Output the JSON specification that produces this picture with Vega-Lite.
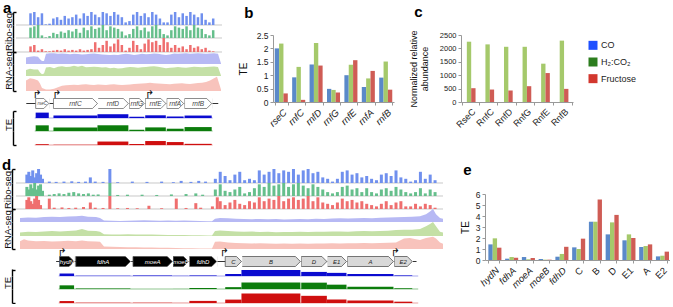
{
"$schema":"https://vega.github.io/schema/vega-lite/v6.json",
"padding":{"left":1,"top":1,"right":0,"bottom":0},
"background":"white",
"config":{
 "font":"Liberation Sans",
 "view":{"stroke":null},
 "axis":{"labelFont":"Liberation Sans","titleFont":"Liberation Sans","labelColor":"#222","titleColor":"#111","titleFontWeight":"normal","titleFontSize":10,"labelFontSize":8.5,"domainColor":"#999","tickColor":"#999","grid":false},
 "title":{"font":"Liberation Sans","fontSize":15,"fontWeight":"bold","anchor":"start","frame":"bounds","color":"#000","offset":0},
 "area":{"opacity":1},
 "bar":{"opacity":1}
},
"datasets":{
 "riboA":[
{"c":"CO","p":0,"v":9},{"c":"CO","p":4,"v":10},{"c":"CO","p":8,"v":6},{"c":"CO","p":12,"v":9},{"c":"CO","p":16,"v":0.5},{"c":"CO","p":20,"v":1},{"c":"CO","p":24,"v":5},{"c":"CO","p":28,"v":6},{"c":"CO","p":32,"v":4},{"c":"CO","p":36,"v":7},{"c":"CO","p":40,"v":5},{"c":"CO","p":44,"v":6},{"c":"CO","p":48,"v":8},{"c":"CO","p":52,"v":5},{"c":"CO","p":56,"v":9},{"c":"CO","p":60,"v":7},{"c":"CO","p":64,"v":10},{"c":"CO","p":68,"v":8},{"c":"CO","p":72,"v":6},{"c":"CO","p":76,"v":10},{"c":"CO","p":80,"v":9},{"c":"CO","p":84,"v":7},{"c":"CO","p":88,"v":10},{"c":"CO","p":92,"v":8},{"c":"CO","p":96,"v":6},{"c":"CO","p":100,"v":2},{"c":"CO","p":104,"v":3},{"c":"CO","p":108,"v":8},{"c":"CO","p":112,"v":10},{"c":"CO","p":116,"v":7},{"c":"CO","p":120,"v":9},{"c":"CO","p":124,"v":6},{"c":"CO","p":128,"v":10},{"c":"CO","p":132,"v":8},{"c":"CO","p":136,"v":5},{"c":"CO","p":140,"v":2},{"c":"CO","p":144,"v":2},{"c":"CO","p":148,"v":8},{"c":"CO","p":152,"v":10},{"c":"CO","p":156,"v":6},{"c":"CO","p":160,"v":9},{"c":"CO","p":164,"v":7},{"c":"CO","p":168,"v":10},{"c":"CO","p":172,"v":8},{"c":"CO","p":176,"v":6},{"c":"CO","p":180,"v":9},{"c":"CO","p":184,"v":4},{"c":"CO","p":188,"v":2},{"c":"CO","p":192,"v":5},
{"c":"H2","p":0,"v":8},{"c":"H2","p":4,"v":9},{"c":"H2","p":8,"v":10},{"c":"H2","p":12,"v":2},{"c":"H2","p":16,"v":0.5},{"c":"H2","p":20,"v":1.5},{"c":"H2","p":24,"v":4},{"c":"H2","p":28,"v":3},{"c":"H2","p":32,"v":5},{"c":"H2","p":36,"v":4},{"c":"H2","p":40,"v":6},{"c":"H2","p":44,"v":5},{"c":"H2","p":48,"v":7},{"c":"H2","p":52,"v":4},{"c":"H2","p":56,"v":8},{"c":"H2","p":60,"v":6},{"c":"H2","p":64,"v":9},{"c":"H2","p":68,"v":7},{"c":"H2","p":72,"v":8},{"c":"H2","p":76,"v":10},{"c":"H2","p":80,"v":6},{"c":"H2","p":84,"v":9},{"c":"H2","p":88,"v":8},{"c":"H2","p":92,"v":7},{"c":"H2","p":96,"v":5},{"c":"H2","p":100,"v":2},{"c":"H2","p":104,"v":3},{"c":"H2","p":108,"v":7},{"c":"H2","p":112,"v":9},{"c":"H2","p":116,"v":6},{"c":"H2","p":120,"v":8},{"c":"H2","p":124,"v":5},{"c":"H2","p":128,"v":9},{"c":"H2","p":132,"v":10},{"c":"H2","p":136,"v":7},{"c":"H2","p":140,"v":3},{"c":"H2","p":144,"v":2},{"c":"H2","p":148,"v":6},{"c":"H2","p":152,"v":9},{"c":"H2","p":156,"v":8},{"c":"H2","p":160,"v":7},{"c":"H2","p":164,"v":9},{"c":"H2","p":168,"v":6},{"c":"H2","p":172,"v":10},{"c":"H2","p":176,"v":8},{"c":"H2","p":180,"v":7},{"c":"H2","p":184,"v":3},{"c":"H2","p":188,"v":2},{"c":"H2","p":192,"v":6},
{"c":"Fru","p":0,"v":4},{"c":"Fru","p":4,"v":5},{"c":"Fru","p":8,"v":1},{"c":"Fru","p":12,"v":2},{"c":"Fru","p":16,"v":0.5},{"c":"Fru","p":20,"v":0.5},{"c":"Fru","p":24,"v":1},{"c":"Fru","p":28,"v":1.5},{"c":"Fru","p":32,"v":1},{"c":"Fru","p":36,"v":2},{"c":"Fru","p":40,"v":1},{"c":"Fru","p":44,"v":1.5},{"c":"Fru","p":48,"v":1},{"c":"Fru","p":52,"v":2},{"c":"Fru","p":56,"v":1},{"c":"Fru","p":60,"v":1.5},{"c":"Fru","p":64,"v":2},{"c":"Fru","p":68,"v":7},{"c":"Fru","p":72,"v":3},{"c":"Fru","p":76,"v":5},{"c":"Fru","p":80,"v":8},{"c":"Fru","p":84,"v":4},{"c":"Fru","p":88,"v":6},{"c":"Fru","p":92,"v":9},{"c":"Fru","p":96,"v":5},{"c":"Fru","p":100,"v":1},{"c":"Fru","p":104,"v":3},{"c":"Fru","p":108,"v":8},{"c":"Fru","p":112,"v":5},{"c":"Fru","p":116,"v":2},{"c":"Fru","p":120,"v":6},{"c":"Fru","p":124,"v":9},{"c":"Fru","p":128,"v":7},{"c":"Fru","p":132,"v":8},{"c":"Fru","p":136,"v":5},{"c":"Fru","p":140,"v":10},{"c":"Fru","p":144,"v":7},{"c":"Fru","p":148,"v":3},{"c":"Fru","p":152,"v":5},{"c":"Fru","p":156,"v":3},{"c":"Fru","p":160,"v":4},{"c":"Fru","p":164,"v":2},{"c":"Fru","p":168,"v":5},{"c":"Fru","p":172,"v":3},{"c":"Fru","p":176,"v":4},{"c":"Fru","p":180,"v":2},{"c":"Fru","p":184,"v":3},{"c":"Fru","p":188,"v":1},{"c":"Fru","p":192,"v":0.5}
 ],
 "rnaA":[
{"c":"CO","p":0,"v":5.5},{"c":"CO","p":4,"v":6},{"c":"CO","p":8,"v":6.5},{"c":"CO","p":12,"v":6},{"c":"CO","p":14,"v":4},{"c":"CO","p":16,"v":2.5},{"c":"CO","p":18,"v":2.5},{"c":"CO","p":20,"v":8.5},{"c":"CO","p":24,"v":9},{"c":"CO","p":28,"v":9},{"c":"CO","p":32,"v":8.5},{"c":"CO","p":36,"v":8.8},{"c":"CO","p":40,"v":8.5},{"c":"CO","p":44,"v":8.2},{"c":"CO","p":48,"v":8.6},{"c":"CO","p":52,"v":8.3},{"c":"CO","p":56,"v":8},{"c":"CO","p":60,"v":8.2},{"c":"CO","p":64,"v":8.5},{"c":"CO","p":68,"v":8.7},{"c":"CO","p":72,"v":8.4},{"c":"CO","p":76,"v":8},{"c":"CO","p":80,"v":7.8},{"c":"CO","p":84,"v":7.5},{"c":"CO","p":88,"v":7.8},{"c":"CO","p":92,"v":7.5},{"c":"CO","p":96,"v":8.2},{"c":"CO","p":100,"v":8.6},{"c":"CO","p":104,"v":8.2},{"c":"CO","p":108,"v":7.6},{"c":"CO","p":112,"v":8},{"c":"CO","p":116,"v":8.5},{"c":"CO","p":120,"v":8.2},{"c":"CO","p":124,"v":8.4},{"c":"CO","p":128,"v":8.8},{"c":"CO","p":132,"v":8.6},{"c":"CO","p":136,"v":8},{"c":"CO","p":140,"v":7.6},{"c":"CO","p":144,"v":8},{"c":"CO","p":148,"v":8.8},{"c":"CO","p":152,"v":8.6},{"c":"CO","p":156,"v":8.8},{"c":"CO","p":160,"v":9},{"c":"CO","p":164,"v":8.5},{"c":"CO","p":168,"v":8.8},{"c":"CO","p":172,"v":9},{"c":"CO","p":176,"v":8.7},{"c":"CO","p":180,"v":8.5},{"c":"CO","p":184,"v":8.8},{"c":"CO","p":188,"v":9},{"c":"CO","p":192,"v":8.5},{"c":"CO","p":195,"v":0.5},
{"c":"H2","p":0,"v":5},{"c":"H2","p":4,"v":6},{"c":"H2","p":8,"v":5.5},{"c":"H2","p":12,"v":5.5},{"c":"H2","p":14,"v":3},{"c":"H2","p":16,"v":1.5},{"c":"H2","p":18,"v":2},{"c":"H2","p":20,"v":7},{"c":"H2","p":24,"v":7.5},{"c":"H2","p":28,"v":6.5},{"c":"H2","p":32,"v":7.8},{"c":"H2","p":36,"v":8.2},{"c":"H2","p":40,"v":7.5},{"c":"H2","p":44,"v":7.8},{"c":"H2","p":48,"v":8.5},{"c":"H2","p":52,"v":7.8},{"c":"H2","p":56,"v":8.5},{"c":"H2","p":60,"v":7.2},{"c":"H2","p":64,"v":7.5},{"c":"H2","p":68,"v":7.8},{"c":"H2","p":72,"v":7.5},{"c":"H2","p":76,"v":7},{"c":"H2","p":80,"v":7.2},{"c":"H2","p":84,"v":6.5},{"c":"H2","p":88,"v":6.8},{"c":"H2","p":92,"v":6.2},{"c":"H2","p":96,"v":6.5},{"c":"H2","p":100,"v":7},{"c":"H2","p":104,"v":7.5},{"c":"H2","p":108,"v":7.2},{"c":"H2","p":112,"v":6.8},{"c":"H2","p":116,"v":7.2},{"c":"H2","p":120,"v":7.6},{"c":"H2","p":124,"v":8},{"c":"H2","p":128,"v":8.2},{"c":"H2","p":132,"v":7.8},{"c":"H2","p":136,"v":7},{"c":"H2","p":140,"v":6.5},{"c":"H2","p":144,"v":6.8},{"c":"H2","p":148,"v":7},{"c":"H2","p":152,"v":7.5},{"c":"H2","p":156,"v":7},{"c":"H2","p":160,"v":6.8},{"c":"H2","p":164,"v":7.2},{"c":"H2","p":168,"v":7.8},{"c":"H2","p":172,"v":7.5},{"c":"H2","p":176,"v":7.2},{"c":"H2","p":180,"v":7.5},{"c":"H2","p":184,"v":7.8},{"c":"H2","p":188,"v":8},{"c":"H2","p":192,"v":7.5},{"c":"H2","p":195,"v":0.5},
{"c":"Fru","p":0,"v":7},{"c":"Fru","p":4,"v":8.5},{"c":"Fru","p":8,"v":8},{"c":"Fru","p":12,"v":7},{"c":"Fru","p":14,"v":5},{"c":"Fru","p":16,"v":2},{"c":"Fru","p":20,"v":1},{"c":"Fru","p":24,"v":1},{"c":"Fru","p":28,"v":1.5},{"c":"Fru","p":32,"v":2.5},{"c":"Fru","p":36,"v":3.5},{"c":"Fru","p":40,"v":3.8},{"c":"Fru","p":44,"v":4},{"c":"Fru","p":48,"v":4.2},{"c":"Fru","p":52,"v":4},{"c":"Fru","p":56,"v":4.3},{"c":"Fru","p":60,"v":4.5},{"c":"Fru","p":64,"v":4.2},{"c":"Fru","p":68,"v":4},{"c":"Fru","p":72,"v":4.4},{"c":"Fru","p":76,"v":4.2},{"c":"Fru","p":80,"v":4},{"c":"Fru","p":84,"v":4.3},{"c":"Fru","p":88,"v":4.5},{"c":"Fru","p":92,"v":4.2},{"c":"Fru","p":96,"v":4},{"c":"Fru","p":100,"v":4.2},{"c":"Fru","p":104,"v":4.4},{"c":"Fru","p":108,"v":4.6},{"c":"Fru","p":112,"v":4.8},{"c":"Fru","p":116,"v":5},{"c":"Fru","p":120,"v":5.2},{"c":"Fru","p":124,"v":5.5},{"c":"Fru","p":128,"v":5.2},{"c":"Fru","p":132,"v":5},{"c":"Fru","p":136,"v":4.8},{"c":"Fru","p":140,"v":4.6},{"c":"Fru","p":144,"v":4.5},{"c":"Fru","p":148,"v":4.8},{"c":"Fru","p":152,"v":5},{"c":"Fru","p":156,"v":5.2},{"c":"Fru","p":160,"v":4.8},{"c":"Fru","p":164,"v":4.6},{"c":"Fru","p":168,"v":5},{"c":"Fru","p":172,"v":5.3},{"c":"Fru","p":176,"v":5.5},{"c":"Fru","p":180,"v":6},{"c":"Fru","p":184,"v":7},{"c":"Fru","p":188,"v":8.5},{"c":"Fru","p":191,"v":9.5},{"c":"Fru","p":195,"v":1}
 ],
 "genesA":[
{"gene":"rseC","start":1,"end":15},{"gene":"rnfC","start":20,"end":67},{"gene":"rnfD","start":67,"end":100},{"gene":"rnfG","start":101,"end":117},{"gene":"rnfE","start":118,"end":140},{"gene":"rnfA","start":141,"end":159},{"gene":"rnfB","start":160,"end":189}
 ],
 "teA":[
{"gene":"rseC","start":1,"end":15,"c":"CO","te":2.0},{"gene":"rseC","start":1,"end":15,"c":"H2","te":2.18},{"gene":"rseC","start":1,"end":15,"c":"Fru","te":0.32},
{"gene":"rnfC","start":20,"end":67,"c":"CO","te":0.92},{"gene":"rnfC","start":20,"end":67,"c":"H2","te":1.31},{"gene":"rnfC","start":20,"end":67,"c":"Fru","te":0.08},
{"gene":"rnfD","start":67,"end":100,"c":"CO","te":1.4},{"gene":"rnfD","start":67,"end":100,"c":"H2","te":2.2},{"gene":"rnfD","start":67,"end":100,"c":"Fru","te":1.36},
{"gene":"rnfG","start":101,"end":117,"c":"CO","te":0.49},{"gene":"rnfG","start":101,"end":117,"c":"H2","te":0.45},{"gene":"rnfG","start":101,"end":117,"c":"Fru","te":0.35},
{"gene":"rnfE","start":118,"end":140,"c":"CO","te":1.0},{"gene":"rnfE","start":118,"end":140,"c":"H2","te":1.39},{"gene":"rnfE","start":118,"end":140,"c":"Fru","te":1.56},
{"gene":"rnfA","start":141,"end":159,"c":"CO","te":0.56},{"gene":"rnfA","start":141,"end":159,"c":"H2","te":0.88},{"gene":"rnfA","start":141,"end":159,"c":"Fru","te":1.16},
{"gene":"rnfB","start":160,"end":189,"c":"CO","te":0.91},{"gene":"rnfB","start":160,"end":189,"c":"H2","te":1.51},{"gene":"rnfB","start":160,"end":189,"c":"Fru","te":0.46}
 ],
 "protC":[
{"p":"RseC","c":"H2","v":2250},{"p":"RseC","c":"Fru","v":515},
{"p":"RnfC","c":"H2","v":2150},{"p":"RnfC","c":"Fru","v":465},
{"p":"RnfD","c":"H2","v":2060},{"p":"RnfD","c":"Fru","v":425},
{"p":"RnfG","c":"H2","v":2060},{"p":"RnfG","c":"Fru","v":590},
{"p":"RnfE","c":"H2","v":1430},{"p":"RnfE","c":"Fru","v":1080},
{"p":"RnfB","c":"H2","v":2290},{"p":"RnfB","c":"Fru","v":490}
 ],
 "riboD":[
{"c":"CO","p":2,"v":6},{"c":"CO","p":4,"v":8},{"c":"CO","p":6,"v":5},{"c":"CO","p":8,"v":9},{"c":"CO","p":10,"v":4},{"c":"CO","p":12,"v":7},{"c":"CO","p":14,"v":10},{"c":"CO","p":16,"v":6},{"c":"CO","p":18,"v":3},{"c":"CO","p":25,"v":1},{"c":"CO","p":32,"v":0.8},{"c":"CO","p":40,"v":1},{"c":"CO","p":48,"v":1.2},{"c":"CO","p":55,"v":0.8},{"c":"CO","p":62,"v":1},{"c":"CO","p":67,"v":4},{"c":"CO","p":72,"v":1},{"c":"CO","p":80,"v":0.8},{"c":"CO","p":87,"v":10},{"c":"CO","p":95,"v":0.6},{"c":"CO","p":110,"v":1},{"c":"CO","p":125,"v":0.8},{"c":"CO","p":140,"v":1},{"c":"CO","p":152,"v":0.6},{"c":"CO","p":160,"v":1.5},{"c":"CO","p":170,"v":0.8},{"c":"CO","p":178,"v":1.5},{"c":"CO","p":185,"v":1},
{"c":"CO","p":195,"v":3},{"c":"CO","p":200,"v":8},{"c":"CO","p":205,"v":5},{"c":"CO","p":210,"v":2},{"c":"CO","p":215,"v":6},{"c":"CO","p":220,"v":8},{"c":"CO","p":225,"v":2},{"c":"CO","p":230,"v":3},{"c":"CO","p":235,"v":2},{"c":"CO","p":240,"v":9},{"c":"CO","p":245,"v":6},{"c":"CO","p":250,"v":8},{"c":"CO","p":255,"v":10},{"c":"CO","p":260,"v":7},{"c":"CO","p":265,"v":9},{"c":"CO","p":270,"v":8},{"c":"CO","p":275,"v":10},{"c":"CO","p":280,"v":6},{"c":"CO","p":285,"v":9},{"c":"CO","p":290,"v":10},{"c":"CO","p":295,"v":7},{"c":"CO","p":300,"v":8},{"c":"CO","p":305,"v":4},{"c":"CO","p":310,"v":3},{"c":"CO","p":315,"v":1},{"c":"CO","p":320,"v":3},{"c":"CO","p":325,"v":8},{"c":"CO","p":330,"v":9},{"c":"CO","p":335,"v":6},{"c":"CO","p":340,"v":7},{"c":"CO","p":345,"v":4},{"c":"CO","p":350,"v":5},{"c":"CO","p":355,"v":3},{"c":"CO","p":360,"v":2},{"c":"CO","p":365,"v":6},{"c":"CO","p":370,"v":7},{"c":"CO","p":375,"v":5},{"c":"CO","p":380,"v":9},{"c":"CO","p":385,"v":4},{"c":"CO","p":390,"v":3},{"c":"CO","p":395,"v":1},{"c":"CO","p":400,"v":2},{"c":"CO","p":405,"v":8},{"c":"CO","p":410,"v":3},{"c":"CO","p":415,"v":6},{"c":"CO","p":420,"v":2},
{"c":"H2","p":2,"v":7},{"c":"H2","p":4,"v":5},{"c":"H2","p":6,"v":9},{"c":"H2","p":8,"v":6},{"c":"H2","p":10,"v":10},{"c":"H2","p":12,"v":5},{"c":"H2","p":14,"v":8},{"c":"H2","p":16,"v":9},{"c":"H2","p":18,"v":4},{"c":"H2","p":25,"v":1},{"c":"H2","p":30,"v":1.5},{"c":"H2","p":35,"v":2},{"c":"H2","p":40,"v":1.5},{"c":"H2","p":45,"v":2.5},{"c":"H2","p":50,"v":3},{"c":"H2","p":55,"v":2},{"c":"H2","p":60,"v":1.5},{"c":"H2","p":65,"v":2},{"c":"H2","p":70,"v":1},{"c":"H2","p":75,"v":1.2},{"c":"H2","p":87,"v":10},{"c":"H2","p":95,"v":0.8},{"c":"H2","p":105,"v":1},{"c":"H2","p":120,"v":1},{"c":"H2","p":135,"v":0.8},{"c":"H2","p":150,"v":1.2},{"c":"H2","p":165,"v":1.5},{"c":"H2","p":175,"v":2},{"c":"H2","p":182,"v":1},
{"c":"H2","p":195,"v":5},{"c":"H2","p":200,"v":9},{"c":"H2","p":205,"v":4},{"c":"H2","p":210,"v":3},{"c":"H2","p":215,"v":5},{"c":"H2","p":220,"v":7},{"c":"H2","p":225,"v":2},{"c":"H2","p":230,"v":3},{"c":"H2","p":235,"v":6},{"c":"H2","p":240,"v":9},{"c":"H2","p":245,"v":7},{"c":"H2","p":250,"v":10},{"c":"H2","p":255,"v":8},{"c":"H2","p":260,"v":9},{"c":"H2","p":265,"v":10},{"c":"H2","p":270,"v":7},{"c":"H2","p":275,"v":9},{"c":"H2","p":280,"v":10},{"c":"H2","p":285,"v":8},{"c":"H2","p":290,"v":6},{"c":"H2","p":295,"v":9},{"c":"H2","p":300,"v":7},{"c":"H2","p":305,"v":5},{"c":"H2","p":310,"v":3},{"c":"H2","p":315,"v":2},{"c":"H2","p":320,"v":3},{"c":"H2","p":325,"v":7},{"c":"H2","p":330,"v":8},{"c":"H2","p":335,"v":5},{"c":"H2","p":340,"v":6},{"c":"H2","p":345,"v":3},{"c":"H2","p":350,"v":6},{"c":"H2","p":355,"v":3},{"c":"H2","p":360,"v":2},{"c":"H2","p":365,"v":5},{"c":"H2","p":370,"v":6},{"c":"H2","p":375,"v":4},{"c":"H2","p":380,"v":7},{"c":"H2","p":385,"v":5},{"c":"H2","p":390,"v":3},{"c":"H2","p":395,"v":2},{"c":"H2","p":400,"v":3},{"c":"H2","p":405,"v":6},{"c":"H2","p":410,"v":2},{"c":"H2","p":415,"v":5},{"c":"H2","p":420,"v":3},
{"c":"Fru","p":2,"v":7},{"c":"Fru","p":4,"v":9},{"c":"Fru","p":6,"v":6},{"c":"Fru","p":8,"v":4},{"c":"Fru","p":10,"v":8},{"c":"Fru","p":12,"v":10},{"c":"Fru","p":14,"v":7},{"c":"Fru","p":16,"v":3},{"c":"Fru","p":25,"v":8},{"c":"Fru","p":30,"v":1},{"c":"Fru","p":38,"v":1.2},{"c":"Fru","p":45,"v":0.8},{"c":"Fru","p":52,"v":1},{"c":"Fru","p":60,"v":1.5},{"c":"Fru","p":67,"v":5},{"c":"Fru","p":72,"v":1},{"c":"Fru","p":80,"v":0.8},{"c":"Fru","p":87,"v":10},{"c":"Fru","p":95,"v":0.6},{"c":"Fru","p":105,"v":0.8},{"c":"Fru","p":115,"v":0.6},{"c":"Fru","p":127,"v":2.5},{"c":"Fru","p":140,"v":0.6},{"c":"Fru","p":155,"v":8},{"c":"Fru","p":165,"v":0.8},{"c":"Fru","p":175,"v":4.5},{"c":"Fru","p":180,"v":1},{"c":"Fru","p":192,"v":2},
{"c":"Fru","p":197,"v":9},{"c":"Fru","p":200,"v":6},{"c":"Fru","p":205,"v":3},{"c":"Fru","p":210,"v":5},{"c":"Fru","p":215,"v":7},{"c":"Fru","p":220,"v":4},{"c":"Fru","p":225,"v":3},{"c":"Fru","p":230,"v":6},{"c":"Fru","p":235,"v":5},{"c":"Fru","p":240,"v":9},{"c":"Fru","p":245,"v":6},{"c":"Fru","p":250,"v":8},{"c":"Fru","p":255,"v":7},{"c":"Fru","p":260,"v":10},{"c":"Fru","p":265,"v":6},{"c":"Fru","p":270,"v":8},{"c":"Fru","p":275,"v":9},{"c":"Fru","p":280,"v":7},{"c":"Fru","p":285,"v":8},{"c":"Fru","p":290,"v":10},{"c":"Fru","p":295,"v":6},{"c":"Fru","p":300,"v":9},{"c":"Fru","p":305,"v":5},{"c":"Fru","p":310,"v":4},{"c":"Fru","p":315,"v":3},{"c":"Fru","p":320,"v":5},{"c":"Fru","p":325,"v":8},{"c":"Fru","p":330,"v":6},{"c":"Fru","p":335,"v":7},{"c":"Fru","p":340,"v":5},{"c":"Fru","p":345,"v":6},{"c":"Fru","p":350,"v":4},{"c":"Fru","p":355,"v":3},{"c":"Fru","p":360,"v":2},{"c":"Fru","p":365,"v":4},{"c":"Fru","p":370,"v":6},{"c":"Fru","p":375,"v":3},{"c":"Fru","p":380,"v":5},{"c":"Fru","p":385,"v":6},{"c":"Fru","p":390,"v":2},{"c":"Fru","p":395,"v":2},{"c":"Fru","p":400,"v":4},{"c":"Fru","p":405,"v":2},{"c":"Fru","p":410,"v":4},{"c":"Fru","p":415,"v":3},{"c":"Fru","p":420,"v":1}
 ],
 "rnaD":[
{"c":"CO","p":0,"v":3},{"c":"CO","p":8,"v":3.5},{"c":"CO","p":16,"v":3.2},{"c":"CO","p":24,"v":3.8},{"c":"CO","p":32,"v":4},{"c":"CO","p":40,"v":3.8},{"c":"CO","p":48,"v":4.2},{"c":"CO","p":56,"v":4.5},{"c":"CO","p":62,"v":4.8},{"c":"CO","p":68,"v":4},{"c":"CO","p":76,"v":3.8},{"c":"CO","p":80,"v":3},{"c":"CO","p":84,"v":1.2},{"c":"CO","p":92,"v":1},{"c":"CO","p":100,"v":0.8},{"c":"CO","p":108,"v":1},{"c":"CO","p":116,"v":1.2},{"c":"CO","p":124,"v":1.3},{"c":"CO","p":132,"v":1.1},{"c":"CO","p":140,"v":1},{"c":"CO","p":148,"v":1.2},{"c":"CO","p":156,"v":1},{"c":"CO","p":164,"v":1.1},{"c":"CO","p":172,"v":0.9},{"c":"CO","p":180,"v":0.7},{"c":"CO","p":188,"v":0.5},{"c":"CO","p":192,"v":0.5},{"c":"CO","p":195,"v":2.5},{"c":"CO","p":200,"v":3},{"c":"CO","p":208,"v":2.8},{"c":"CO","p":216,"v":2.5},{"c":"CO","p":224,"v":2.3},{"c":"CO","p":232,"v":2.2},{"c":"CO","p":240,"v":2.4},{"c":"CO","p":248,"v":2.2},{"c":"CO","p":256,"v":2.3},{"c":"CO","p":264,"v":2},{"c":"CO","p":272,"v":2.2},{"c":"CO","p":280,"v":2.4},{"c":"CO","p":288,"v":2.2},{"c":"CO","p":296,"v":2.5},{"c":"CO","p":304,"v":2.3},{"c":"CO","p":312,"v":2.6},{"c":"CO","p":320,"v":2.8},{"c":"CO","p":328,"v":2.6},{"c":"CO","p":336,"v":2.8},{"c":"CO","p":344,"v":3},{"c":"CO","p":352,"v":2.8},{"c":"CO","p":360,"v":3.2},{"c":"CO","p":368,"v":3.4},{"c":"CO","p":376,"v":3.6},{"c":"CO","p":384,"v":3.8},{"c":"CO","p":392,"v":4},{"c":"CO","p":400,"v":4.5},{"c":"CO","p":406,"v":6},{"c":"CO","p":410,"v":8},{"c":"CO","p":413,"v":10},{"c":"CO","p":416,"v":6},{"c":"CO","p":420,"v":3},{"c":"CO","p":423,"v":2.5},
{"c":"H2","p":0,"v":2.5},{"c":"H2","p":8,"v":3},{"c":"H2","p":16,"v":2.8},{"c":"H2","p":24,"v":3.2},{"c":"H2","p":32,"v":3.5},{"c":"H2","p":40,"v":3.3},{"c":"H2","p":48,"v":3.6},{"c":"H2","p":56,"v":4},{"c":"H2","p":62,"v":5},{"c":"H2","p":68,"v":3.8},{"c":"H2","p":76,"v":3.5},{"c":"H2","p":80,"v":3},{"c":"H2","p":84,"v":1.2},{"c":"H2","p":92,"v":1.1},{"c":"H2","p":100,"v":1},{"c":"H2","p":108,"v":1.2},{"c":"H2","p":116,"v":1},{"c":"H2","p":124,"v":1.1},{"c":"H2","p":132,"v":1},{"c":"H2","p":140,"v":0.9},{"c":"H2","p":148,"v":0.8},{"c":"H2","p":156,"v":0.8},{"c":"H2","p":164,"v":0.7},{"c":"H2","p":172,"v":0.6},{"c":"H2","p":180,"v":0.5},{"c":"H2","p":188,"v":0.4},{"c":"H2","p":192,"v":0.4},{"c":"H2","p":195,"v":3.5},{"c":"H2","p":200,"v":4},{"c":"H2","p":208,"v":3.6},{"c":"H2","p":216,"v":3.2},{"c":"H2","p":224,"v":3},{"c":"H2","p":232,"v":3.2},{"c":"H2","p":240,"v":2.8},{"c":"H2","p":248,"v":3},{"c":"H2","p":256,"v":2.7},{"c":"H2","p":264,"v":2.9},{"c":"H2","p":272,"v":2.8},{"c":"H2","p":280,"v":3},{"c":"H2","p":288,"v":2.8},{"c":"H2","p":296,"v":3.1},{"c":"H2","p":304,"v":3},{"c":"H2","p":312,"v":3.2},{"c":"H2","p":320,"v":3.3},{"c":"H2","p":328,"v":3.1},{"c":"H2","p":336,"v":3.4},{"c":"H2","p":344,"v":3.6},{"c":"H2","p":352,"v":3.4},{"c":"H2","p":360,"v":3.6},{"c":"H2","p":368,"v":3.8},{"c":"H2","p":376,"v":4.2},{"c":"H2","p":384,"v":4.5},{"c":"H2","p":392,"v":4.4},{"c":"H2","p":400,"v":5},{"c":"H2","p":406,"v":7},{"c":"H2","p":410,"v":8.5},{"c":"H2","p":413,"v":10},{"c":"H2","p":416,"v":7},{"c":"H2","p":420,"v":3},{"c":"H2","p":423,"v":2.5},
{"c":"Fru","p":0,"v":6},{"c":"Fru","p":4,"v":7.5},{"c":"Fru","p":8,"v":6.5},{"c":"Fru","p":16,"v":6},{"c":"Fru","p":24,"v":6.2},{"c":"Fru","p":32,"v":5.8},{"c":"Fru","p":40,"v":6},{"c":"Fru","p":48,"v":6.3},{"c":"Fru","p":56,"v":6},{"c":"Fru","p":62,"v":6.5},{"c":"Fru","p":68,"v":6},{"c":"Fru","p":76,"v":5.8},{"c":"Fru","p":80,"v":5.5},{"c":"Fru","p":84,"v":2},{"c":"Fru","p":92,"v":1.8},{"c":"Fru","p":100,"v":1.5},{"c":"Fru","p":108,"v":1.4},{"c":"Fru","p":116,"v":1.3},{"c":"Fru","p":124,"v":1.2},{"c":"Fru","p":132,"v":1.1},{"c":"Fru","p":140,"v":1},{"c":"Fru","p":148,"v":0.9},{"c":"Fru","p":156,"v":0.8},{"c":"Fru","p":164,"v":0.6},{"c":"Fru","p":172,"v":0.5},{"c":"Fru","p":180,"v":0.4},{"c":"Fru","p":188,"v":0.3},{"c":"Fru","p":192,"v":0.3},{"c":"Fru","p":195,"v":5.5},{"c":"Fru","p":200,"v":5.8},{"c":"Fru","p":208,"v":5},{"c":"Fru","p":216,"v":4.6},{"c":"Fru","p":224,"v":4.4},{"c":"Fru","p":232,"v":4.2},{"c":"Fru","p":240,"v":4.5},{"c":"Fru","p":248,"v":4.2},{"c":"Fru","p":256,"v":4},{"c":"Fru","p":264,"v":4.3},{"c":"Fru","p":272,"v":4.1},{"c":"Fru","p":280,"v":4.2},{"c":"Fru","p":288,"v":4},{"c":"Fru","p":296,"v":4.3},{"c":"Fru","p":304,"v":4.2},{"c":"Fru","p":312,"v":4.4},{"c":"Fru","p":320,"v":4.3},{"c":"Fru","p":328,"v":4.5},{"c":"Fru","p":336,"v":4.4},{"c":"Fru","p":344,"v":4.6},{"c":"Fru","p":352,"v":4.5},{"c":"Fru","p":360,"v":4.7},{"c":"Fru","p":368,"v":4.8},{"c":"Fru","p":376,"v":5},{"c":"Fru","p":384,"v":8},{"c":"Fru","p":390,"v":8.5},{"c":"Fru","p":396,"v":7.5},{"c":"Fru","p":400,"v":7},{"c":"Fru","p":406,"v":8.5},{"c":"Fru","p":413,"v":9.5},{"c":"Fru","p":416,"v":8},{"c":"Fru","p":420,"v":5},{"c":"Fru","p":423,"v":4}
 ],
 "genesD":[
{"gene":"hydN","grp":"fdh","start":1,"end":18},{"gene":"fdhA","grp":"fdh","start":20,"end":84},{"gene":"moeA","grp":"fdh","start":87,"end":133},{"gene":"moeB","grp":"fdh","start":134,"end":152},{"gene":"fdhD","grp":"fdh","start":153,"end":185},
{"gene":"C","grp":"rnf","start":195,"end":214},{"gene":"B","grp":"rnf","start":214,"end":283},{"gene":"D","grp":"rnf","start":284,"end":314},{"gene":"E1","grp":"rnf","start":314,"end":337},{"gene":"A","grp":"rnf","start":338,"end":392},{"gene":"E2","grp":"rnf","start":393,"end":414}
 ],
 "teD":[
{"gene":"hydN","start":1,"end":18,"c":"CO","te":1.42},{"gene":"hydN","start":1,"end":18,"c":"H2","te":1.97},{"gene":"hydN","start":1,"end":18,"c":"Fru","te":1.12},
{"gene":"fdhA","start":20,"end":84,"c":"CO","te":0.12},{"gene":"fdhA","start":20,"end":84,"c":"H2","te":0.27},{"gene":"fdhA","start":20,"end":84,"c":"Fru","te":0.21},
{"gene":"moeA","start":87,"end":133,"c":"CO","te":0.27},{"gene":"moeA","start":87,"end":133,"c":"H2","te":0.06},{"gene":"moeA","start":87,"end":133,"c":"Fru","te":0.18},
{"gene":"moeB","start":134,"end":152,"c":"CO","te":0.09},{"gene":"moeB","start":134,"end":152,"c":"H2","te":0.03},{"gene":"moeB","start":134,"end":152,"c":"Fru","te":0.03},
{"gene":"fdhD","start":153,"end":185,"c":"CO","te":0.3},{"gene":"fdhD","start":153,"end":185,"c":"H2","te":0.55},{"gene":"fdhD","start":153,"end":185,"c":"Fru","te":1.2},
{"gene":"C","start":195,"end":214,"c":"CO","te":1.15},{"gene":"C","start":195,"end":214,"c":"H2","te":1.0},{"gene":"C","start":195,"end":214,"c":"Fru","te":1.94},
{"gene":"B","start":214,"end":283,"c":"CO","te":3.48},{"gene":"B","start":214,"end":283,"c":"H2","te":3.48},{"gene":"B","start":214,"end":283,"c":"Fru","te":5.5},
{"gene":"D","start":284,"end":314,"c":"CO","te":2.33},{"gene":"D","start":284,"end":314,"c":"H2","te":3.42},{"gene":"D","start":284,"end":314,"c":"Fru","te":4.1},
{"gene":"E1","start":314,"end":337,"c":"CO","te":1.79},{"gene":"E1","start":314,"end":337,"c":"H2","te":2.33},{"gene":"E1","start":314,"end":337,"c":"Fru","te":2.0},
{"gene":"A","start":338,"end":392,"c":"CO","te":1.18},{"gene":"A","start":338,"end":392,"c":"H2","te":1.27},{"gene":"A","start":338,"end":392,"c":"Fru","te":1.42},
{"gene":"E2","start":393,"end":414,"c":"CO","te":0.33},{"gene":"E2","start":393,"end":414,"c":"H2","te":0.39},{"gene":"E2","start":393,"end":414,"c":"Fru","te":0.76}
 ]
},
"spacing":12,
"resolve":{"scale":{"x":"independent","y":"independent","color":"independent"}},
"vconcat":[
 {"concat":[
  {"title":{"text":"a","offset":-5},"bounds":"flush","spacing":0,
   "resolve":{"scale":{"x":"independent","y":"independent"}},
   "vconcat":[
    {"width":206,"height":13,"data":{"name":"riboA"},"transform":[{"filter":"datum.c==='CO'"}],"layer":[
      {"mark":{"type":"rule","color":"#e3e3e3","strokeWidth":1},"encoding":{"y":{"datum":0,"type":"quantitative","scale":{"domain":[0,10]}}}},
      {"mark":{"type":"bar","color":"#7090ee","size":2.5},"encoding":{"x":{"field":"p","type":"quantitative","scale":{"domain":[-10,196]},"axis":null},"y":{"field":"v","type":"quantitative","scale":{"domain":[0,10]},"axis":{"domainColor":"#000","domainWidth":1.4,"ticks":true,"tickColor":"#000","tickWidth":1.4,"tickSize":-3,"values":[10],"labels":false,"title":null,"offset":3}}}}]},
    {"width":206,"height":13,"data":{"name":"riboA"},"transform":[{"filter":"datum.c==='H2'"}],"layer":[
      {"mark":{"type":"rule","color":"#e3e3e3","strokeWidth":1},"encoding":{"y":{"datum":0,"type":"quantitative","scale":{"domain":[0,10]}}}},
      {"mark":{"type":"bar","color":"#66bf8c","size":2.5},"encoding":{"x":{"field":"p","type":"quantitative","scale":{"domain":[-10,196]},"axis":null},"y":{"field":"v","type":"quantitative","scale":{"domain":[0,10]},"axis":{"domainColor":"#000","domainWidth":1.4,"ticks":false,"labels":false,"title":"Ribo-seq","titleFontSize":9.5,"titlePadding":0,"offset":3}}}}]},
    {"width":206,"height":14,"data":{"name":"riboA"},"transform":[{"filter":"datum.c==='Fru'"}],"layer":[
      {"mark":{"type":"rule","color":"#e3e3e3","strokeWidth":1},"encoding":{"y":{"datum":0,"type":"quantitative","scale":{"domain":[0,10]}}}},
      {"mark":{"type":"bar","color":"#ef6f6f","size":2.5},"encoding":{"x":{"field":"p","type":"quantitative","scale":{"domain":[-10,196]},"axis":null},"y":{"field":"v","type":"quantitative","scale":{"domain":[0,10]},"axis":{"domainColor":"#000","domainWidth":1.4,"ticks":true,"tickColor":"#000","tickWidth":1.4,"tickSize":-3,"values":[0],"labels":false,"title":null,"offset":3}}}}]},
    {"width":206,"height":12,"data":{"name":"rnaA"},"transform":[{"filter":"datum.c==='CO'"}],
      "mark":{"type":"area","color":"#b7b9f4","opacity":1},"encoding":{"x":{"field":"p","type":"quantitative","scale":{"domain":[-10,196]},"axis":null},"y":{"field":"v","type":"quantitative","scale":{"domain":[0,10]},"axis":{"domainColor":"#000","domainWidth":1.4,"ticks":true,"tickColor":"#000","tickWidth":1.4,"tickSize":-3,"values":[10],"labels":false,"title":null,"offset":3}}}},
    {"width":206,"height":12,"data":{"name":"rnaA"},"transform":[{"filter":"datum.c==='H2'"}],
      "mark":{"type":"area","color":"#c4e0a6","opacity":1},"encoding":{"x":{"field":"p","type":"quantitative","scale":{"domain":[-10,196]},"axis":null},"y":{"field":"v","type":"quantitative","scale":{"domain":[0,10]},"axis":{"domainColor":"#000","domainWidth":1.4,"ticks":false,"labels":false,"title":"RNA-seq","titleFontSize":9.5,"titlePadding":0,"offset":3}}}},
    {"width":206,"height":15,"data":{"name":"rnaA"},"transform":[{"filter":"datum.c==='Fru'"}],
      "mark":{"type":"area","color":"#f8c3bc","opacity":1},"encoding":{"x":{"field":"p","type":"quantitative","scale":{"domain":[-10,196]},"axis":null},"y":{"field":"v","type":"quantitative","scale":{"domain":[0,10]},"axis":{"domainColor":"#000","domainWidth":1.4,"ticks":true,"tickColor":"#000","tickWidth":1.4,"tickSize":-3,"values":[0],"labels":false,"title":null,"offset":3}}}},
    {"width":206,"height":20,"data":{"name":"genesA"},"layer":[
      {"data":{"values":[{"a":1}]},"mark":{"type":"rule","color":"#333","strokeWidth":1},"encoding":{"x":{"datum":-9,"type":"quantitative","scale":{"domain":[-10,196]},"axis":null},"x2":{"datum":196},"y":{"datum":-0.25,"type":"quantitative","scale":{"domain":[-1,1]},"axis":null}}},
      {"mark":{"type":"rect","fill":"#fff","stroke":"#707070","strokeWidth":0.8},"encoding":{"x":{"field":"start","type":"quantitative"},"x2":{"field":"end"},"y":{"datum":-0.75},"y2":{"datum":0.25}}},
      {"mark":{"type":"point","shape":"M-1,-1.15L0.15,-1.15L0.15,1.15L-1,1.15L-1,1L0,0L-1,-1Z","size":100,"filled":true,"color":"#fff","strokeWidth":0,"opacity":1},"encoding":{"x":{"field":"end","type":"quantitative"},"y":{"datum":-0.25}}},
      {"mark":{"type":"point","shape":"M-1,-1L0,0L-1,1","size":100,"filled":false,"color":"#707070","strokeWidth":0.8,"opacity":1},"encoding":{"x":{"field":"end","type":"quantitative"},"y":{"datum":-0.25}}},
      {"transform":[{"fold":["start","end"],"as":["k","xx"]}],"mark":{"type":"text","fontStyle":"italic","color":"#444"},"encoding":{"x":{"aggregate":"mean","field":"xx","type":"quantitative"},"y":{"datum":-0.25},"text":{"field":"gene"},"size":{"condition":{"test":"datum.gene==='rseC'","value":4.5},"value":6.5}}},
      {"data":{"values":[{"p":-2},{"p":19},{"p":118}]},"mark":{"type":"text","text":"↱","font":"DejaVu Sans","fontSize":11,"align":"left","baseline":"bottom","color":"#111"},"encoding":{"x":{"field":"p","type":"quantitative"},"y":{"datum":0.1}}}]},
    {"width":206,"height":7,"data":{"name":"teA"},"transform":[{"filter":"datum.c==='CO'"}],"layer":[
      {"data":{"values":[{"a":1}]},"mark":{"type":"rule","color":"#a9a9ee","strokeWidth":1},"encoding":{"x":{"datum":0,"type":"quantitative","scale":{"domain":[-10,196]},"axis":null},"x2":{"datum":190},"y":{"datum":0,"type":"quantitative","scale":{"domain":[0,2.6]}}}},
      {"mark":{"type":"rect","color":"#0b0bd0"},"encoding":{"x":{"field":"start","type":"quantitative"},"x2":{"field":"end"},"y":{"field":"te","type":"quantitative","axis":{"domainColor":"#000","domainWidth":1.4,"ticks":true,"tickColor":"#000","tickWidth":1.4,"tickSize":-3,"values":[2.6],"labels":false,"title":null,"offset":3}},"y2":{"datum":0}}}]},
    {"width":206,"height":13,"data":{"name":"teA"},"transform":[{"filter":"datum.c==='H2'"}],"layer":[
      {"data":{"values":[{"a":1}]},"mark":{"type":"rule","color":"#8fc58f","strokeWidth":1},"encoding":{"x":{"datum":0,"type":"quantitative","scale":{"domain":[-10,196]},"axis":null},"x2":{"datum":190},"y":{"datum":0,"type":"quantitative","scale":{"domain":[0,4.8]}}}},
      {"mark":{"type":"rect","color":"#0c7c0c"},"encoding":{"x":{"field":"start","type":"quantitative"},"x2":{"field":"end"},"y":{"field":"te","type":"quantitative","axis":{"domainColor":"#000","domainWidth":1.4,"ticks":false,"labels":false,"title":"TE","titleFontSize":9.5,"titlePadding":0,"offset":3}},"y2":{"datum":0}}}]},
    {"width":206,"height":14,"data":{"name":"teA"},"transform":[{"filter":"datum.c==='Fru'"}],"layer":[
      {"data":{"values":[{"a":1}]},"mark":{"type":"rule","color":"#eba3a3","strokeWidth":1},"encoding":{"x":{"datum":0,"type":"quantitative","scale":{"domain":[-10,196]},"axis":null},"x2":{"datum":190},"y":{"datum":0,"type":"quantitative","scale":{"domain":[0,5.2]}}}},
      {"mark":{"type":"rect","color":"#cf0f0f"},"encoding":{"x":{"field":"start","type":"quantitative"},"x2":{"field":"end"},"y":{"field":"te","type":"quantitative","axis":{"domainColor":"#000","domainWidth":1.4,"ticks":true,"tickColor":"#000","tickWidth":1.4,"tickSize":-3,"values":[0],"labels":false,"title":null,"offset":3}},"y2":{"datum":0}}}]}
   ]},
  {"vconcat":[
    {"width":1,"height":23,"data":{"values":[]},"mark":"point","encoding":{}},
    {"width":121,"height":67,"title":{"text":"b","offset":10,"dx":6},"data":{"name":"teA"},"mark":{"type":"bar"},
     "encoding":{
      "x":{"field":"gene","type":"nominal","sort":null,"scale":{"paddingInner":0.25,"paddingOuter":0.1},"axis":{"title":null,"labelAngle":-45,"labelFontStyle":"italic","labelFontSize":9.5,"tickBand":"extent","tickSize":3,"labelPadding":2}},
      "xOffset":{"field":"c","type":"nominal","scale":{"domain":["CO","H2","Fru"]}},
      "y":{"field":"te","type":"quantitative","scale":{"domain":[0,2.5]},"axis":{"title":"TE","values":[0,0.5,1,1.5,2,2.5],"format":"~g","tickSize":3,"labelPadding":2,"titlePadding":8}},
      "color":{"field":"c","type":"nominal","scale":{"domain":["CO","H2","Fru"],"range":["#5a89c9","#a5c96b","#cf5c55"]},"legend":null}}}
   ],"spacing":0,"bounds":"flush","resolve":{"scale":{"x":"independent","y":"independent"}}},
  {"vconcat":[
    {"width":1,"height":23,"data":{"values":[]},"mark":"point","encoding":{}},
    {"width":112,"height":67,"title":{"text":"c","offset":10,"dx":5},"data":{"name":"protC"},"mark":{"type":"bar"},
     "encoding":{
      "x":{"field":"p","type":"nominal","sort":null,"scale":{"paddingInner":0.13,"paddingOuter":0.08},"axis":{"title":null,"labelAngle":-45,"labelFontSize":9,"tickBand":"extent","tickSize":3,"labelPadding":2}},
      "xOffset":{"field":"c","type":"nominal","scale":{"domain":["CO","H2","Fru"]}},
      "y":{"field":"v","type":"quantitative","scale":{"domain":[0,2500]},"axis":{"title":["Normalized relative","abundance"],"titleFontSize":9,"labelFontSize":7.5,"values":[0,500,1000,1500,2000,2500],"format":"d","tickSize":3,"labelPadding":2,"titlePadding":10}},
      "color":{"field":"c","type":"nominal","scale":{"domain":["CO","H2","Fru"],"range":["#5a89c9","#a5c96b","#cf5c55"]},"legend":null}}}
   ],"spacing":0,"bounds":"flush","resolve":{"scale":{"x":"independent","y":"independent"}}},
  {"vconcat":[
    {"width":1,"height":25,"data":{"values":[]},"mark":"point","encoding":{}},
    {"width":55,"height":50,"data":{"values":[{"k":"CO","t":"CO"},{"k":"H2","t":"H₂:CO₂"},{"k":"Fru","t":"Fructose"}]},
     "encoding":{"y":{"field":"k","type":"nominal","sort":null,"scale":{"type":"point","domain":["CO","H2","Fru"],"padding":0.5},"axis":null}},
     "layer":[
      {"mark":{"type":"square","size":81,"filled":true,"opacity":1},"encoding":{"x":{"datum":0,"type":"quantitative","scale":{"domain":[0,10]},"axis":null},"fill":{"field":"k","type":"nominal","scale":{"domain":["CO","H2","Fru"],"range":["#1e50ff","#2c7d1e","#d2372e"]},"legend":null}}},
      {"mark":{"type":"text","align":"left","dx":8,"fontSize":9,"color":"#222"},"encoding":{"x":{"datum":0,"type":"quantitative"},"text":{"field":"t"}}}]}
   ],"spacing":0,"bounds":"flush","resolve":{"scale":{"x":"independent","y":"independent"}}}
 ],"columns":4,"align":"each","spacing":15,"resolve":{"scale":{"x":"independent","y":"independent","color":"independent"}}},
 {"concat":[
  {"title":{"text":"d","offset":-5},"bounds":"flush","spacing":0,
   "resolve":{"scale":{"x":"independent","y":"independent"}},
   "vconcat":[
    {"width":427,"height":14,"data":{"name":"riboD"},"transform":[{"filter":"datum.c==='CO'"}],"layer":[
      {"mark":{"type":"rule","color":"#e3e3e3","strokeWidth":1},"encoding":{"y":{"datum":0,"type":"quantitative","scale":{"domain":[0,10]}}}},
      {"mark":{"type":"bar","color":"#7090ee","size":3},"encoding":{"x":{"field":"p","type":"quantitative","scale":{"domain":[-4,423]},"axis":null},"y":{"field":"v","type":"quantitative","scale":{"domain":[0,10]},"axis":{"domainColor":"#000","domainWidth":1.4,"ticks":true,"tickColor":"#000","tickWidth":1.4,"tickSize":-3,"values":[10],"labels":false,"title":null,"offset":4}}}}]},
    {"width":427,"height":13,"data":{"name":"riboD"},"transform":[{"filter":"datum.c==='H2'"}],"layer":[
      {"mark":{"type":"rule","color":"#e3e3e3","strokeWidth":1},"encoding":{"y":{"datum":0,"type":"quantitative","scale":{"domain":[0,10]}}}},
      {"mark":{"type":"bar","color":"#66bf8c","size":3},"encoding":{"x":{"field":"p","type":"quantitative","scale":{"domain":[-4,423]},"axis":null},"y":{"field":"v","type":"quantitative","scale":{"domain":[0,10]},"axis":{"domainColor":"#000","domainWidth":1.4,"ticks":false,"labels":false,"title":"Ribo-seq","titleFontSize":9.5,"titlePadding":0,"offset":4}}}}]},
    {"width":427,"height":13,"data":{"name":"riboD"},"transform":[{"filter":"datum.c==='Fru'"}],"layer":[
      {"mark":{"type":"rule","color":"#e3e3e3","strokeWidth":1},"encoding":{"y":{"datum":0,"type":"quantitative","scale":{"domain":[0,10]}}}},
      {"mark":{"type":"bar","color":"#ef6f6f","size":3},"encoding":{"x":{"field":"p","type":"quantitative","scale":{"domain":[-4,423]},"axis":null},"y":{"field":"v","type":"quantitative","scale":{"domain":[0,10]},"axis":{"domainColor":"#000","domainWidth":1.4,"ticks":true,"tickColor":"#000","tickWidth":1.4,"tickSize":-3,"values":[0],"labels":false,"title":null,"offset":4}}}}]},
    {"width":427,"height":13,"data":{"name":"rnaD"},"transform":[{"filter":"datum.c==='CO'"}],
      "mark":{"type":"area","color":"#b7b9f4","opacity":1},"encoding":{"x":{"field":"p","type":"quantitative","scale":{"domain":[-4,423]},"axis":null},"y":{"field":"v","type":"quantitative","scale":{"domain":[0,10]},"axis":{"domainColor":"#000","domainWidth":1.4,"ticks":true,"tickColor":"#000","tickWidth":1.4,"tickSize":-3,"values":[10],"labels":false,"title":null,"offset":4}}}},
    {"width":427,"height":14,"data":{"name":"rnaD"},"transform":[{"filter":"datum.c==='H2'"}],
      "mark":{"type":"area","color":"#c4e0a6","opacity":1},"encoding":{"x":{"field":"p","type":"quantitative","scale":{"domain":[-4,423]},"axis":null},"y":{"field":"v","type":"quantitative","scale":{"domain":[0,10]},"axis":{"domainColor":"#000","domainWidth":1.4,"ticks":false,"labels":false,"title":"RNA-seq","titleFontSize":9.5,"titlePadding":0,"offset":4}}}},
    {"width":427,"height":13,"data":{"name":"rnaD"},"transform":[{"filter":"datum.c==='Fru'"}],
      "mark":{"type":"area","color":"#f8c3bc","opacity":1},"encoding":{"x":{"field":"p","type":"quantitative","scale":{"domain":[-4,423]},"axis":null},"y":{"field":"v","type":"quantitative","scale":{"domain":[0,10]},"axis":{"domainColor":"#000","domainWidth":1.4,"ticks":true,"tickColor":"#000","tickWidth":1.4,"tickSize":-3,"values":[0],"labels":false,"title":null,"offset":4}}}},
    {"width":427,"height":20,"data":{"name":"genesD"},"layer":[
      {"data":{"values":[{"a":1}]},"mark":{"type":"rule","color":"#333","strokeWidth":1},"encoding":{"x":{"datum":-3,"type":"quantitative","scale":{"domain":[-4,423]},"axis":null},"x2":{"datum":419},"y":{"datum":-0.25,"type":"quantitative","scale":{"domain":[-1,1]},"axis":null}}},
      {"mark":{"type":"rect","stroke":"#555","strokeWidth":0.8},"encoding":{"x":{"field":"start","type":"quantitative"},"x2":{"field":"end"},"y":{"datum":-0.75},"y2":{"datum":0.25},"fill":{"condition":{"test":"datum.grp==='fdh'","value":"#000"},"value":"#d8d8d8"}}},
      {"mark":{"type":"point","shape":"M-1,-1.15L0.15,-1.15L0.15,1.15L-1,1.15L-1,1L0,0L-1,-1Z","size":100,"filled":true,"color":"#fff","strokeWidth":0,"opacity":1},"encoding":{"x":{"field":"end","type":"quantitative"},"y":{"datum":-0.25}}},
      {"mark":{"type":"point","shape":"M-1,-1L0,0L-1,1","size":100,"filled":false,"color":"#555","strokeWidth":0.8,"opacity":1},"encoding":{"x":{"field":"end","type":"quantitative"},"y":{"datum":-0.25}}},
      {"transform":[{"fold":["start","end"],"as":["k","xx"]}],"mark":{"type":"text","fontStyle":"italic","fontSize":6},"encoding":{"x":{"aggregate":"mean","field":"xx","type":"quantitative"},"y":{"datum":-0.25},"text":{"field":"gene"},"detail":{"field":"grp"},"color":{"condition":{"test":"datum.grp==='fdh'","value":"#fff"},"value":"#222"}}},
      {"data":{"values":[{"p":-1},{"p":189},{"p":389}]},"mark":{"type":"text","text":"↱","font":"DejaVu Sans","fontSize":11,"align":"left","baseline":"bottom","color":"#111"},"encoding":{"x":{"field":"p","type":"quantitative"},"y":{"datum":0.1}}}]},
    {"width":427,"height":7,"data":{"name":"teD"},"transform":[{"filter":"datum.c==='CO'"}],"layer":[
      {"data":{"values":[{"a":1}]},"mark":{"type":"rule","color":"#a9a9ee","strokeWidth":1},"encoding":{"x":{"datum":0,"type":"quantitative","scale":{"domain":[-4,423]},"axis":null},"x2":{"datum":421},"y":{"datum":0,"type":"quantitative","scale":{"domain":[0,3.65]}}}},
      {"mark":{"type":"rect","color":"#0b0bd0"},"encoding":{"x":{"field":"start","type":"quantitative"},"x2":{"field":"end"},"y":{"field":"te","type":"quantitative","axis":{"domainColor":"#000","domainWidth":1.4,"ticks":true,"tickColor":"#000","tickWidth":1.4,"tickSize":-3,"values":[3.65],"labels":false,"title":null,"offset":4}},"y2":{"datum":0}}}]},
    {"width":427,"height":13,"data":{"name":"teD"},"transform":[{"filter":"datum.c==='H2'"}],"layer":[
      {"data":{"values":[{"a":1}]},"mark":{"type":"rule","color":"#8fc58f","strokeWidth":1},"encoding":{"x":{"datum":0,"type":"quantitative","scale":{"domain":[-4,423]},"axis":null},"x2":{"datum":421},"y":{"datum":0,"type":"quantitative","scale":{"domain":[0,6.77]}}}},
      {"mark":{"type":"rect","color":"#0c7c0c"},"encoding":{"x":{"field":"start","type":"quantitative"},"x2":{"field":"end"},"y":{"field":"te","type":"quantitative","axis":{"domainColor":"#000","domainWidth":1.4,"ticks":false,"labels":false,"title":"TE","titleFontSize":9.5,"titlePadding":0,"offset":4}},"y2":{"datum":0}}}]},
    {"width":427,"height":14,"data":{"name":"teD"},"transform":[{"filter":"datum.c==='Fru'"}],"layer":[
      {"data":{"values":[{"a":1}]},"mark":{"type":"rule","color":"#eba3a3","strokeWidth":1},"encoding":{"x":{"datum":0,"type":"quantitative","scale":{"domain":[-4,423]},"axis":null},"x2":{"datum":421},"y":{"datum":0,"type":"quantitative","scale":{"domain":[0,7.3]}}}},
      {"mark":{"type":"rect","color":"#cf0f0f"},"encoding":{"x":{"field":"start","type":"quantitative"},"x2":{"field":"end"},"y":{"field":"te","type":"quantitative","axis":{"domainColor":"#000","domainWidth":1.4,"ticks":true,"tickColor":"#000","tickWidth":1.4,"tickSize":-3,"values":[0],"labels":false,"title":null,"offset":4}},"y2":{"datum":0}}}]}
   ]},
  {"vconcat":[
    {"width":1,"height":25,"data":{"values":[]},"mark":"point","encoding":{}},
    {"width":185,"height":66,"title":{"text":"e","offset":12,"dx":3},"data":{"name":"teD"},"mark":{"type":"bar"},
     "encoding":{
      "x":{"field":"gene","type":"nominal","sort":null,"scale":{"paddingInner":0.36,"paddingOuter":0.2},"axis":{"title":null,"labelAngle":-45,"labelFontSize":9.5,"labelFontStyle":{"condition":{"test":"indexof(['hydN','fdhA','moeA','moeB','fdhD'],datum.value)>=0","value":"italic"},"value":"normal"},"tickBand":"extent","tickSize":3,"labelPadding":2}},
      "xOffset":{"field":"c","type":"nominal","scale":{"domain":["CO","H2","Fru"]}},
      "y":{"field":"te","type":"quantitative","scale":{"domain":[0,6]},"axis":{"title":"TE","values":[0,1,2,3,4,5,6],"tickSize":3,"labelPadding":2,"titlePadding":5}},
      "color":{"field":"c","type":"nominal","scale":{"domain":["CO","H2","Fru"],"range":["#5a89c9","#a5c96b","#cf5c55"]},"legend":null}}}
   ],"spacing":0,"bounds":"flush","resolve":{"scale":{"x":"independent","y":"independent"}}}
 ],"columns":2,"align":"each","spacing":16,"resolve":{"scale":{"x":"independent","y":"independent","color":"independent"}}}
]
}
